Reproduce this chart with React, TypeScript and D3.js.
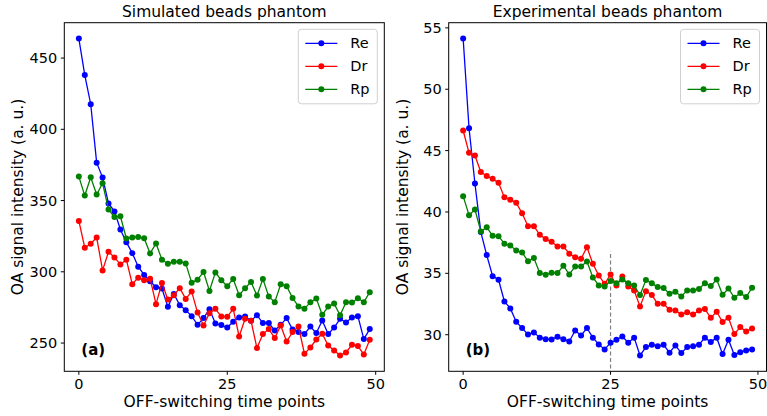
import React from "react";
import * as d3 from "d3";

const xTicks = [0, 25, 50];
const leftYTicks = [250, 300, 350, 400, 450];
const rightYTicks = [30, 35, 40, 45, 50, 55];
const seriesNames = ["Re", "Dr", "Rp"];
const seriesColors = ["#0000ff", "#ff0000", "#008000"];

const simRe = [463.7, 438.1, 417.6, 376.6, 366.1, 348.0, 342.4, 329.7, 320.8, 313.1, 303.6, 297.8, 293.4, 289.2, 288.2, 275.4, 284.5, 276.6, 273.1, 268.9, 262.8, 267.5, 273.8, 263.7, 262.6, 260.9, 264.9, 267.9, 268.6, 265.6, 269.6, 264.0, 264.0, 258.8, 262.8, 267.5, 259.5, 257.7, 256.3, 261.6, 257.0, 265.8, 256.3, 260.9, 267.0, 264.4, 267.9, 268.9, 252.8, 259.8];
const simDr = [335.7, 316.9, 319.7, 324.1, 301.0, 314.1, 310.1, 305.2, 308.5, 291.3, 295.9, 294.1, 295.2, 277.3, 292.2, 280.5, 283.6, 288.5, 281.0, 286.1, 271.4, 262.3, 271.0, 274.0, 268.6, 268.4, 274.0, 254.6, 267.0, 265.6, 246.5, 256.3, 259.8, 253.5, 262.3, 251.1, 257.7, 261.6, 242.5, 246.9, 252.5, 256.5, 248.3, 244.8, 241.3, 243.4, 248.8, 247.9, 242.0, 252.3];
const simRp = [366.8, 353.5, 366.3, 354.2, 362.1, 343.8, 338.4, 339.0, 323.4, 324.1, 324.5, 323.6, 312.9, 319.9, 308.5, 305.7, 307.1, 307.1, 305.9, 292.4, 294.5, 299.9, 286.6, 299.6, 294.1, 289.9, 295.0, 283.6, 288.5, 292.9, 283.3, 295.0, 282.6, 278.7, 291.3, 289.9, 281.7, 275.6, 274.0, 278.7, 281.2, 269.8, 275.6, 277.7, 269.5, 278.7, 278.4, 281.5, 278.7, 285.7];

const expRe = [54.13, 46.82, 42.32, 38.36, 36.49, 34.77, 34.48, 32.71, 32.14, 31.06, 30.54, 30.02, 30.19, 29.76, 29.64, 29.62, 29.84, 29.64, 29.45, 30.35, 29.94, 30.54, 29.76, 29.21, 28.8, 29.35, 29.59, 29.86, 29.35, 29.76, 28.31, 28.99, 29.18, 29.07, 29.18, 28.53, 29.13, 28.5, 28.99, 29.05, 29.18, 29.76, 29.4, 29.76, 28.42, 29.59, 28.34, 28.58, 28.72, 28.8];
const expDr = [46.64, 44.82, 44.6, 43.25, 42.93, 42.7, 42.39, 41.19, 41.0, 40.75, 39.89, 38.84, 38.84, 38.14, 37.79, 37.57, 37.19, 37.19, 36.6, 36.31, 36.19, 37.13, 35.78, 34.83, 34.15, 34.91, 34.01, 34.75, 33.93, 33.61, 32.3, 33.55, 33.23, 32.52, 32.52, 32.03, 31.98, 31.65, 31.82, 31.65, 31.98, 32.09, 31.38, 31.87, 31.03, 31.38, 30.05, 30.62, 30.27, 30.51];
const expRp = [41.29, 39.74, 40.2, 38.41, 38.76, 38.06, 38.03, 37.41, 37.27, 36.86, 36.7, 35.99, 36.24, 35.02, 34.89, 35.05, 35.02, 35.62, 34.91, 35.56, 35.56, 35.97, 34.67, 34.01, 33.93, 34.37, 34.2, 34.5, 34.2, 34.01, 33.23, 34.45, 34.2, 33.88, 33.8, 33.34, 33.5, 33.12, 33.61, 33.61, 33.72, 34.2, 33.96, 34.5, 33.26, 33.77, 33.01, 33.39, 33.07, 33.83];

const FONT = "DejaVu Sans, sans-serif";
const TOP = 22.7;
const BOTTOM = 371.3;

type PanelProps = {
  x0: number;
  x1: number;
  title: string;
  tag: string;
  series: number[][];
  yTicks: number[];
  vline?: { x: number; y0: number; y1: number };
};

function Panel({ x0, x1, title, tag, series, yTicks, vline }: PanelProps) {
  const n = series[0].length;
  const xs = d3.scaleLinear().domain([-(n - 1) * 0.05, (n - 1) * 1.05]).range([x0, x1]);
  const all = series.flat();
  const mn = d3.min(all)!;
  const mx = d3.max(all)!;
  const r = mx - mn;
  const ys = d3.scaleLinear().domain([mn - 0.05 * r, mx + 0.05 * r]).range([BOTTOM, TOP]);
  const line = d3
    .line<number>()
    .x((_, i) => xs(i))
    .y((d) => ys(d));
  const cx = (x0 + x1) / 2;
  const cy = (TOP + BOTTOM) / 2;
  const legX = x1 - 86;
  const legY = 29.3;
  return (
    <g>
      <text x={cx} y={17} textAnchor="middle" fontFamily={FONT} fontSize={15.5}>
        {title}
      </text>
      {vline && (
        <line
          x1={xs(vline.x)}
          x2={xs(vline.x)}
          y1={ys(vline.y0)}
          y2={ys(vline.y1)}
          stroke="#808080"
          strokeWidth={1.2}
          strokeDasharray="4,2.5"
        />
      )}
      {series.map((s, k) => (
        <g key={k}>
          <path d={line(s) || ""} fill="none" stroke={seriesColors[k]} strokeWidth={1.3} />
          {s.map((v, i) => (
            <circle key={i} cx={xs(i)} cy={ys(v)} r={3} fill={seriesColors[k]} />
          ))}
        </g>
      ))}
      <rect x={x0} y={TOP} width={x1 - x0} height={BOTTOM - TOP} fill="none" stroke="#000" strokeWidth={1} />
      {xTicks.map((t) => (
        <g key={t}>
          <line x1={xs(t)} x2={xs(t)} y1={BOTTOM} y2={BOTTOM + 3.5} stroke="#000" />
          <text x={xs(t)} y={388.5} textAnchor="middle" fontFamily={FONT} fontSize={14.5}>
            {t}
          </text>
        </g>
      ))}
      {yTicks.map((t) => (
        <g key={t}>
          <line x1={x0 - 3.5} x2={x0} y1={ys(t)} y2={ys(t)} stroke="#000" />
          <text x={x0 - 7} y={ys(t) + 5} textAnchor="end" fontFamily={FONT} fontSize={14.5}>
            {t}
          </text>
        </g>
      ))}
      <text x={cx} y={407} textAnchor="middle" fontFamily={FONT} fontSize={15.5}>
        OFF-switching time points
      </text>
      <text
        transform={`translate(${x0 - 41},${cy}) rotate(-90)`}
        textAnchor="middle"
        fontFamily={FONT}
        fontSize={15.5}
      >
        OA signal intensity (a. u.)
      </text>
      <text x={x0 + 17} y={355} fontFamily={FONT} fontSize={15} fontWeight="bold">
        {tag}
      </text>
      <rect x={legX} y={legY} width={79} height={74.5} rx={3} fill="#fff" fillOpacity={0.8} stroke="#d0d0d0" />
      {seriesNames.map((nm, k) => {
        const yy = legY + 14 + k * 23;
        return (
          <g key={nm}>
            <line x1={legX + 7} x2={legX + 39} y1={yy} y2={yy} stroke={seriesColors[k]} strokeWidth={1.3} />
            <circle cx={legX + 23} cy={yy} r={3} fill={seriesColors[k]} />
            <text x={legX + 52} y={yy + 5} fontFamily={FONT} fontSize={14.5}>
              {nm}
            </text>
          </g>
        );
      })}
    </g>
  );
}

export default function App() {
  return (
    <svg
      width={767}
      height={416}
      style={{ position: "absolute", left: 0, top: 0, background: "#fff" }}
    >
      <rect width={767} height={416} fill="#fff" />
      <Panel
        x0={64.3}
        x1={384.3}
        title="Simulated beads phantom"
        tag="(a)"
        series={[simRe, simDr, simRp]}
        yTicks={leftYTicks}
      />
      <Panel
        x0={448.7}
        x1={766.5}
        title="Experimental beads phantom"
        tag="(b)"
        series={[expRe, expDr, expRp]}
        yTicks={rightYTicks}
        vline={{ x: 25, y0: 27.25, y1: 36.8 }}
      />
    </svg>
  );
}
